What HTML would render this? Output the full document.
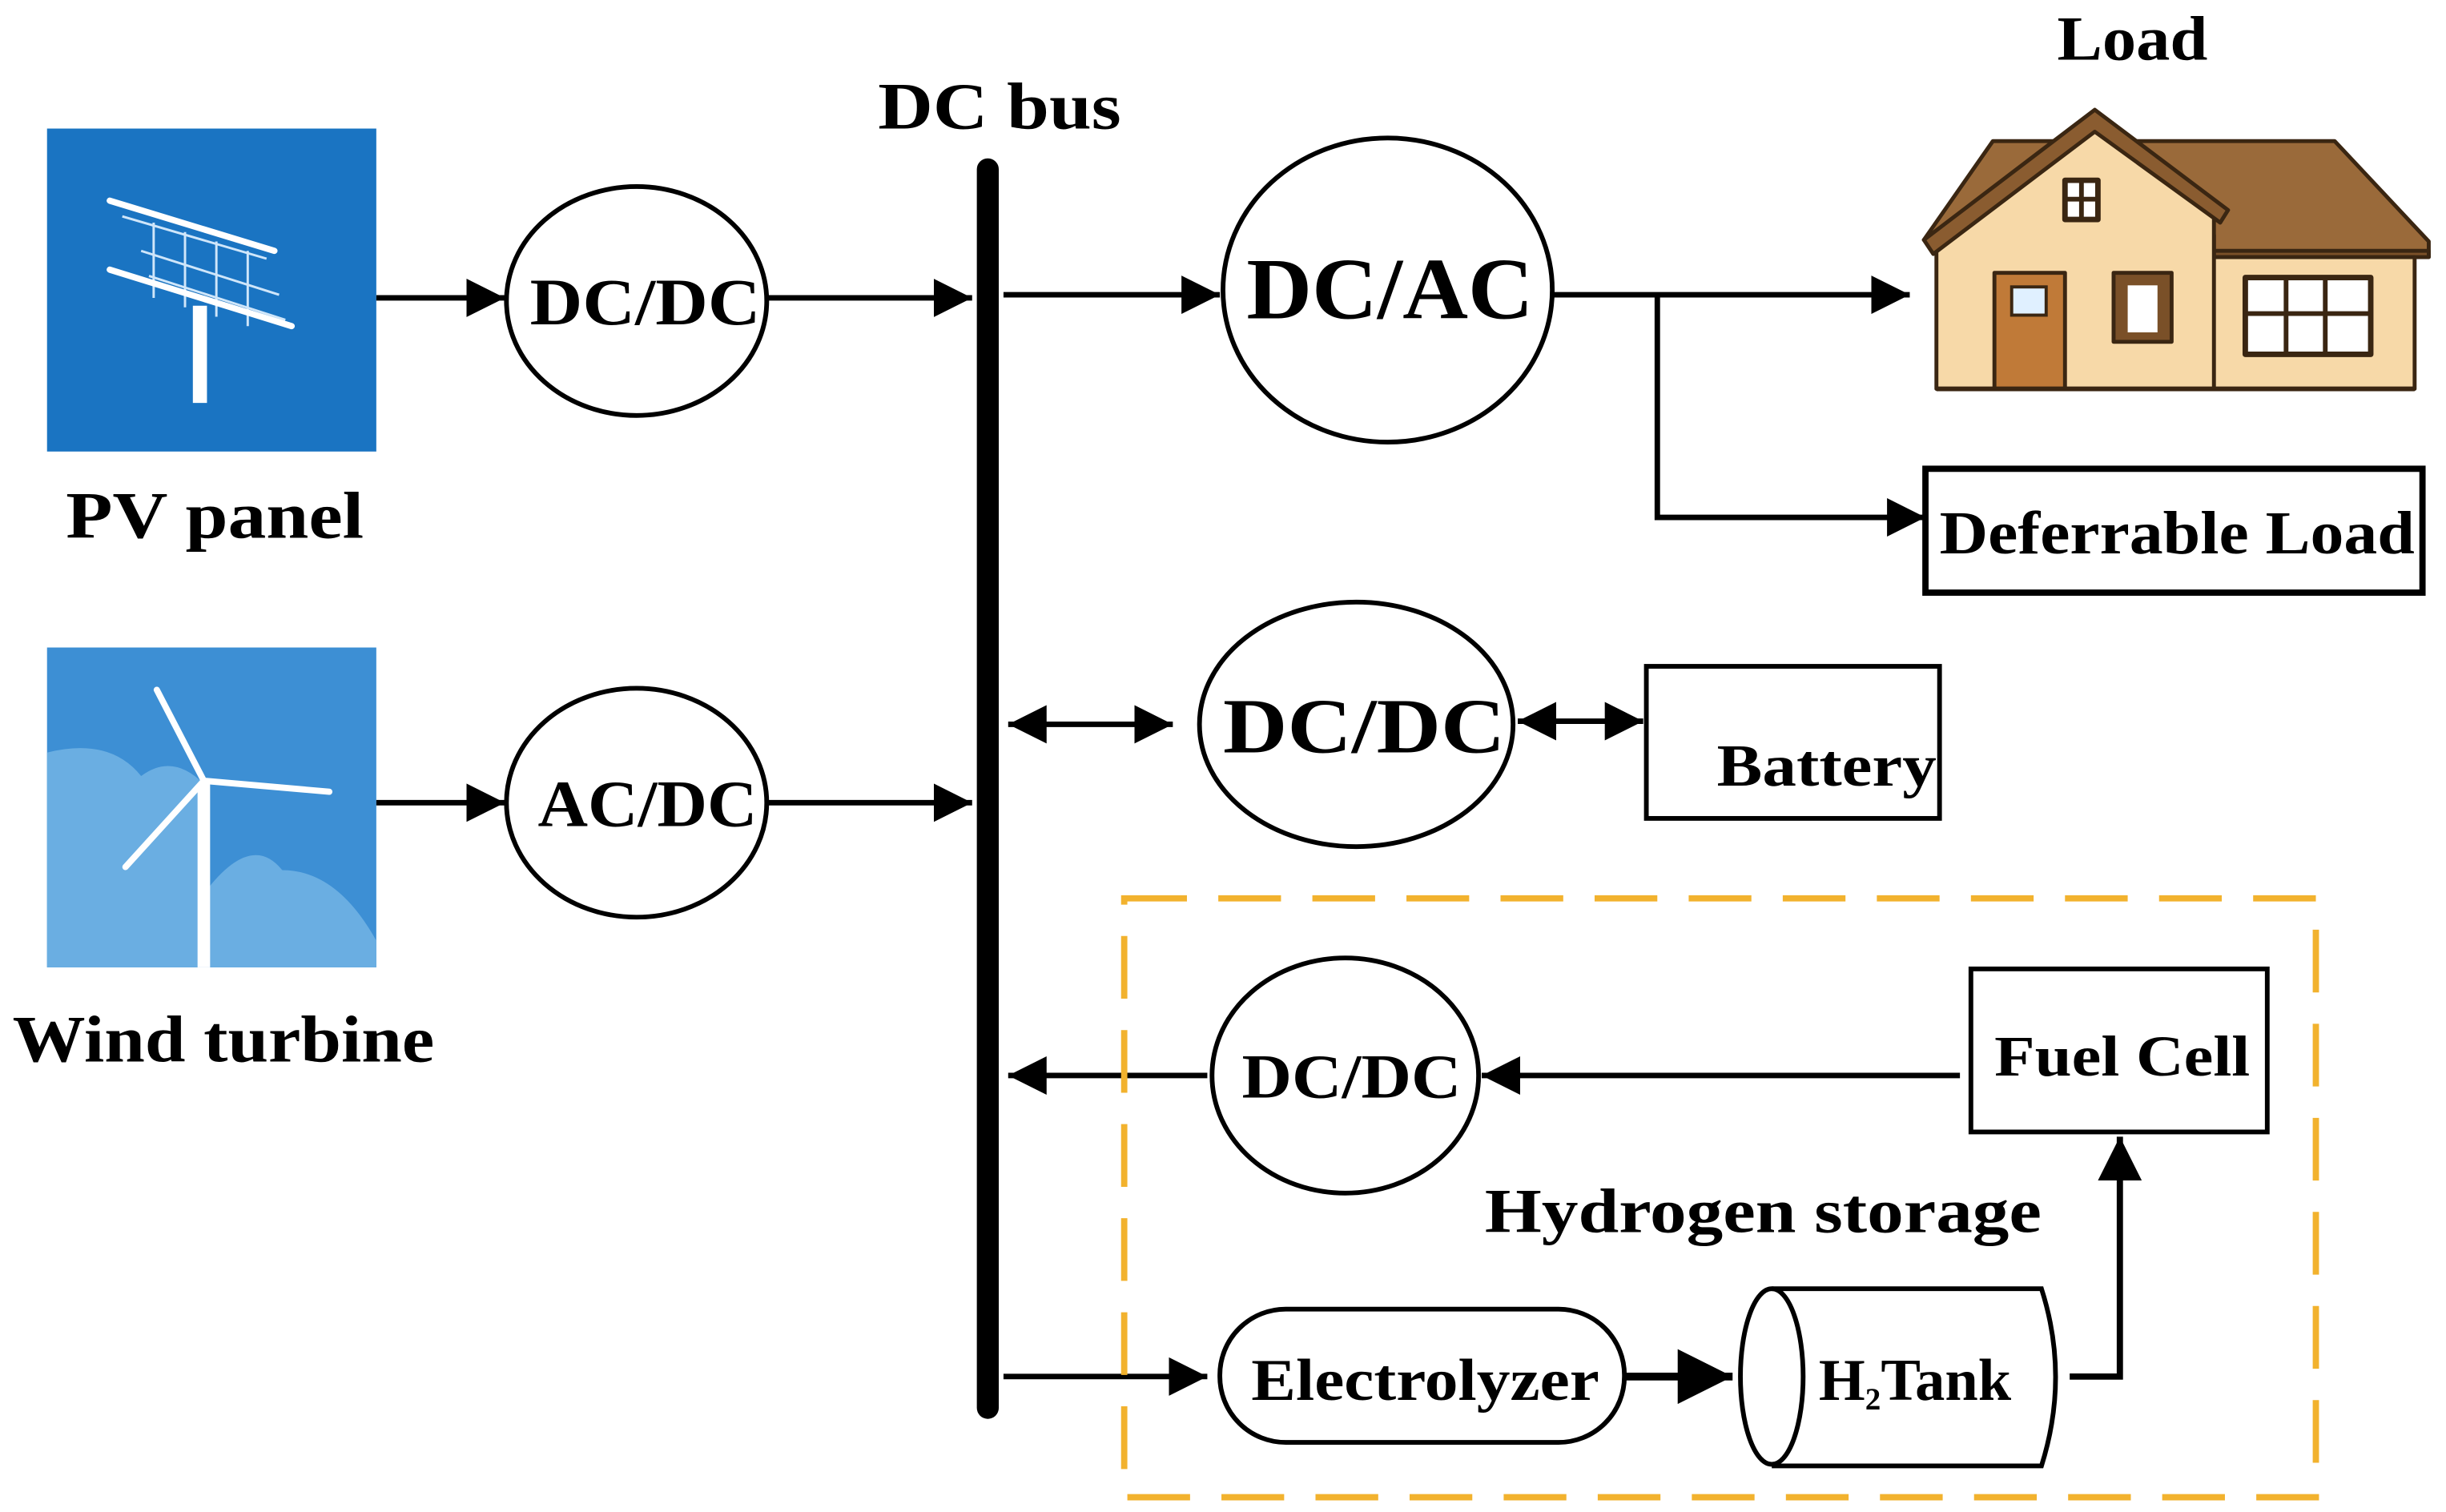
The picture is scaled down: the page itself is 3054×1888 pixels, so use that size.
<!DOCTYPE html>
<html><head><meta charset="utf-8"><style>
html,body{margin:0;padding:0;background:#fff}
svg{display:block}
text{font-family:"Liberation Serif",serif;font-weight:bold;fill:#000}
</style></head><body>
<svg width="3054" height="1888" viewBox="0 0 1560 964.4" xmlns="http://www.w3.org/2000/svg">
<defs>
<marker id="a" viewBox="0 0 10 10" refX="10" refY="5" markerWidth="7" markerHeight="7" markerUnits="strokeWidth" orient="auto-start-reverse"><path d="M0,0L10,5L0,10z" fill="#000"/></marker>
</defs>
<rect width="1560" height="965" fill="#fff"/>
<!-- PV icon -->
<rect x="30" y="82" width="210" height="206" fill="#1a74c2"/>
<g stroke="#cfe6fa" stroke-width="1.5" fill="none">
<path d="M90,160 L178,188 M95,176 L182,204 M78,138 L170,165"/>
<path d="M98,142 L98,190 M118,148 L118,196 M138,154 L138,202 M158,160 L158,208"/>
</g>
<g stroke="#fff" stroke-width="4" stroke-linecap="round"><path d="M70,128 L175,160 M70,172 L186,208"/></g>
<rect x="123" y="195" width="9" height="62" fill="#fff"/>
<!-- Wind icon -->
<rect x="30" y="413" width="210" height="204" fill="#3d8fd4"/>
<path d="M30,480 Q70,470 90,495 Q110,480 130,500 L130,617 L30,617z" fill="#6aaee2"/>
<path d="M130,570 Q160,530 180,555 Q215,555 240,600 L240,617 L130,617z" fill="#6aaee2"/>
<rect x="126" y="500" width="8" height="117" fill="#fff"/>
<g stroke="#fff" stroke-width="4" stroke-linecap="round"><path d="M130,498 L100,440 M130,498 L210,505 M130,498 L80,553"/></g>
<text x="42" y="343" font-size="42" textLength="190" lengthAdjust="spacingAndGlyphs">PV panel</text>
<text x="8" y="677" font-size="42" textLength="269" lengthAdjust="spacingAndGlyphs">Wind turbine</text>
<!-- shapes -->
<g fill="none" stroke="#000" stroke-width="3">
<ellipse cx="406" cy="192" rx="83" ry="73"/>
<ellipse cx="406" cy="512" rx="83" ry="73"/>
<ellipse cx="885" cy="185" rx="105" ry="97"/>
<ellipse cx="865" cy="462" rx="100" ry="78"/>
<ellipse cx="858" cy="686" rx="85" ry="75"/>
<rect x="1228" y="299" width="317" height="79" stroke-width="4"/>
<rect x="1050" y="425" width="187" height="97"/>
<rect x="1257" y="618" width="189" height="104"/>
<rect x="778" y="835" width="258" height="85" rx="42"/>
<path d="M1130,822 L1302,822 Q1320,878 1302,935 L1130,935"/>
<ellipse cx="1130" cy="878" rx="20" ry="56"/>
</g>
<text x="338" y="207" font-size="42" textLength="147" lengthAdjust="spacingAndGlyphs">DC/DC</text>
<text x="343" y="527" font-size="42" textLength="140" lengthAdjust="spacingAndGlyphs">AC/DC</text>
<text x="795" y="203" font-size="56" textLength="183" lengthAdjust="spacingAndGlyphs">DC/AC</text>
<text x="780" y="480" font-size="50" textLength="180" lengthAdjust="spacingAndGlyphs">DC/DC</text>
<text x="792" y="700" font-size="40" textLength="140" lengthAdjust="spacingAndGlyphs">DC/DC</text>
<text x="1237" y="353" font-size="39" textLength="303" lengthAdjust="spacingAndGlyphs">Deferrable Load</text>
<text x="1095" y="501" font-size="38" textLength="140" lengthAdjust="spacingAndGlyphs">Battery</text>
<text x="1272" y="686" font-size="37" textLength="163" lengthAdjust="spacingAndGlyphs">Fuel Cell</text>
<text x="947" y="786" font-size="40" textLength="355" lengthAdjust="spacingAndGlyphs">Hydrogen storage</text>
<text x="798" y="893" font-size="38" textLength="222" lengthAdjust="spacingAndGlyphs">Electrolyzer</text>
<text x="1160" y="893" font-size="38">H<tspan font-size="20" dy="6">2</tspan><tspan dy="-6">Tank</tspan></text>
<text x="560" y="82" font-size="42" textLength="155" lengthAdjust="spacingAndGlyphs">DC bus</text>
<text x="1312" y="38" font-size="40" textLength="96" lengthAdjust="spacingAndGlyphs">Load</text>
<!-- bus -->
<line x1="630" y1="108" x2="630" y2="898" stroke="#000" stroke-width="14" stroke-linecap="round"/>
<!-- connectors -->
<g stroke="#000" stroke-width="3.5" fill="none" marker-end="url(#a)">
<path d="M240,190 L322,190"/>
<path d="M490,190 L620,190"/>
<path d="M240,512 L322,512"/>
<path d="M490,512 L620,512"/>
<path d="M640,188 L778,188"/>
<path d="M990,188 L1218,188"/>
<path d="M1057,188 L1057,330 L1228,330"/>
<path d="M643,462 L748,462" marker-start="url(#a)"/>
<path d="M968,460 L1048,460" marker-start="url(#a)"/>
<path d="M1250,686 L945,686"/>
<path d="M770,686 L643,686"/>
<path d="M640,878 L770,878"/>
<path d="M1036,878 L1105,878" stroke-width="5"/>
<path d="M1320,878 L1352,878 L1352,725" stroke-width="4"/>
</g>
<!-- dashed box -->
<rect x="717" y="573" width="760" height="382" fill="none" stroke="#f2b22e" stroke-width="4" stroke-dasharray="40 20"/>
<!-- house -->
<g stroke="#3a2612" stroke-width="2.5" stroke-linejoin="round">
<path d="M1227,153 L1271,90 L1489,90 L1549,154 L1549,164 L1412,164 L1412,150z" fill="#9a6a3a"/>
<rect x="1412" y="160" width="137" height="4" fill="#7a5028"/>
<rect x="1410" y="164" width="130" height="84" fill="#f7d9a8"/>
<path d="M1235,158 L1336,80 L1412,136 L1412,248 L1235,248z" fill="#f7d9a8"/>
<path d="M1227,153 L1336,70 L1421,134 L1416,142 L1336,84 L1233,162z" fill="#8a5c30"/>
<rect x="1272" y="174" width="45" height="74" fill="#c07a38"/>
<rect x="1348" y="174" width="37" height="44" fill="#7a5028"/>
<rect x="1432" y="177" width="80" height="49" fill="#fff" stroke-width="3.5"/>
<rect x="1317" y="115" width="21" height="25" fill="#fff" stroke-width="3.5"/>
</g>
<rect x="1283" y="183" width="22" height="18" fill="#e0f0ff" stroke="#3a2612" stroke-width="2"/>
<rect x="1357" y="182" width="19" height="30" fill="#fff"/>
<path d="M1458,177 V226 M1483,177 V226 M1432,200 H1512 M1327.5,115 V140 M1317,127 H1338" stroke="#3a2612" stroke-width="3"/>
<line x1="1235" y1="248" x2="1540" y2="248" stroke="#3a2612" stroke-width="3"/>
</svg>
</body></html>
